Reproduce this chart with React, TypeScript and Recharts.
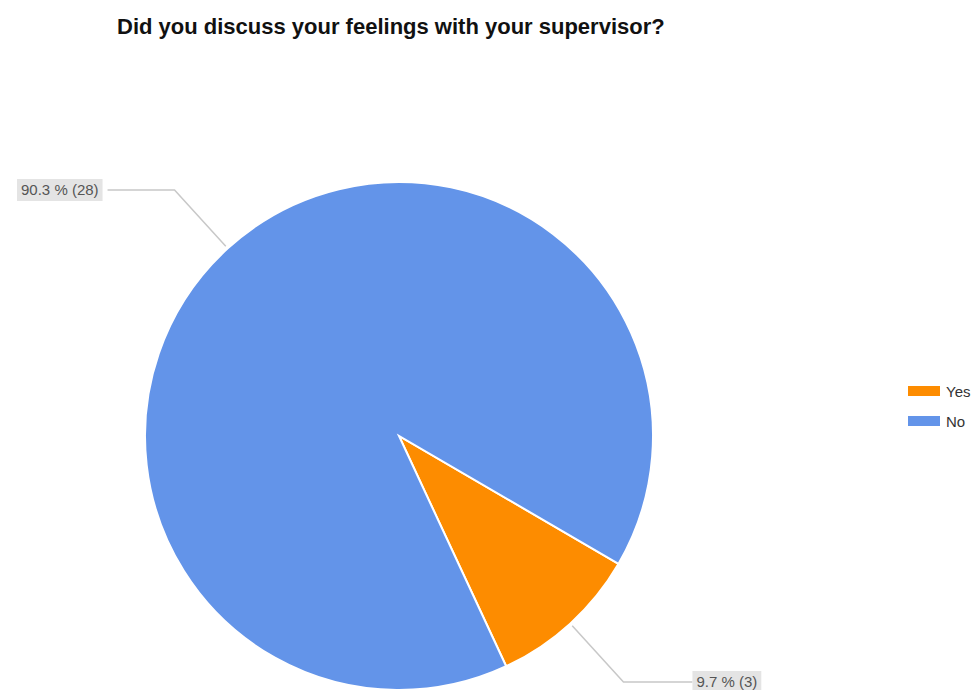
import React from "react";
import { PieChart, Pie, Cell, Legend } from "recharts";

const categories = ["Yes", "No"];
const counts = [3, 28];
const COLORS = ["#fd8c00", "#6394e9"]; // Yes, No

const total = counts.reduce((a, b) => a + b, 0);
const pieData = categories.map((name, i) => ({ name, value: counts[i] }));

const RAD = Math.PI / 180;
const FONT = "'Liberation Sans', Arial, sans-serif";

// rough Arial widths at 15px
const textWidth = (s: string) => {
  let w = 0;
  for (const ch of s) {
    if (ch >= "0" && ch <= "9") w += 8.34;
    else if (ch === "%") w += 13.3;
    else if (ch === "(" || ch === ")") w += 5;
    else w += 4.17;
  }
  return w;
};

const renderLabel = (props: any) => {
  const { cx, cy, midAngle, outerRadius, value } = props;
  const cos = Math.cos(-midAngle * RAD);
  const sin = Math.sin(-midAngle * RAD);
  const sx = cx + (outerRadius + 3) * cos;
  const sy = cy + (outerRadius + 3) * sin;
  const mx = cx + (outerRadius + 79) * cos;
  const my = cy + (outerRadius + 79) * sin;
  const right = cos >= 0;
  const ex = mx + (right ? 69 : -67);
  const text = `${((value / total) * 100).toFixed(1)} % (${value})`;
  const tw = textWidth(text);
  const bw = tw + 8;
  const bx = right ? ex : ex - 5 - bw;
  return (
    <g>
      <polyline
        points={`${sx},${sy} ${mx},${my} ${ex},${my}`}
        fill="none"
        stroke="#c8c8c8"
        strokeWidth={1.5}
      />
      <rect x={bx} y={my - 11} width={bw} height={22} fill="#e4e4e4" />
      <text
        x={bx + 4}
        y={my + 5}
        fill="#555"
        fontSize={15}
        fontFamily={FONT}
      >
        {text}
      </text>
    </g>
  );
};

const renderLegend = () => (
  <div style={{ fontFamily: FONT, fontSize: 15, color: "#333" }}>
    {categories.map((name, i) => (
      <div
        key={name}
        style={{ display: "flex", alignItems: "center", height: 30 }}
      >
        <span
          style={{
            display: "inline-block",
            width: 32,
            height: 10,
            background: COLORS[i],
            marginRight: 6,
          }}
        />
        <span>{name}</span>
      </div>
    ))}
  </div>
);

export default function App() {
  return (
    <div
      style={{
        position: "absolute",
        left: 0,
        top: 0,
        width: 973,
        height: 690,
        background: "#fff",
        overflow: "hidden",
      }}
    >
      <div
        style={{
          position: "absolute",
          left: 117,
          top: 16,
          fontFamily: FONT,
          fontWeight: "bold",
          fontSize: 22,
          lineHeight: "22px",
          color: "#111",
          whiteSpace: "nowrap",
        }}
      >
        Did you discuss your feelings with your supervisor?
      </div>
      <PieChart
        width={973}
        height={690}
        margin={{ top: 0, right: 0, bottom: 0, left: 0 }}
      >
        <Pie
          data={pieData}
          dataKey="value"
          nameKey="name"
          cx={399}
          cy={436}
          outerRadius={254}
          startAngle={-30.2}
          endAngle={-390.2}
          stroke="#fff"
          strokeWidth={2}
          label={renderLabel}
          labelLine={false}
          isAnimationActive={false}
        >
          {pieData.map((entry, index) => (
            <Cell key={`cell-${index}`} fill={COLORS[index]} />
          ))}
        </Pie>
        <Legend
          layout="vertical"
          align="right"
          verticalAlign="top"
          content={renderLegend}
          wrapperStyle={{ position: "absolute", left: 908, top: 376, width: 65 }}
        />
      </PieChart>
    </div>
  );
}
